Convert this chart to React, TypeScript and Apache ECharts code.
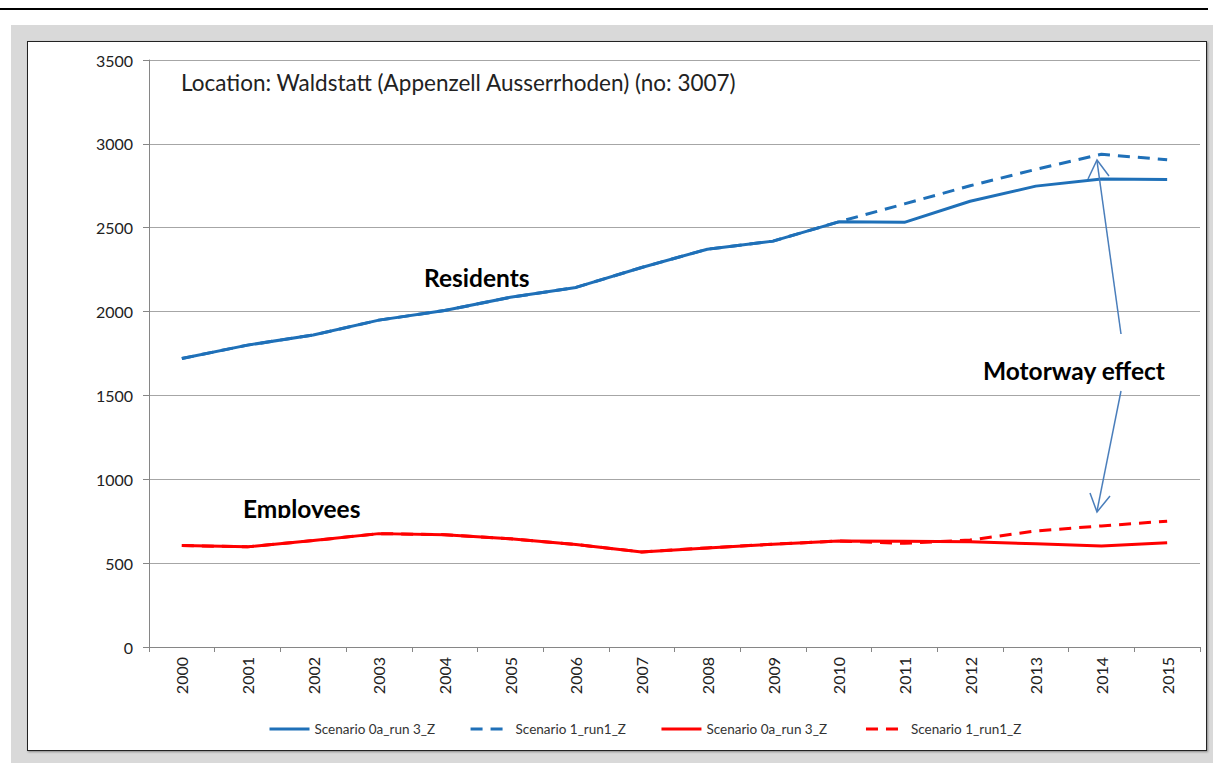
import React, { useEffect, useRef } from "react";
import * as echarts from "echarts";

const years = ["2000", "2001", "2002", "2003", "2004", "2005", "2006", "2007", "2008", "2009", "2010", "2011", "2012", "2013", "2014", "2015"];
const residentsBase = [1720, 1800, 1860, 1949, 2006, 2085, 2144, 2263, 2372, 2420, 2535, 2532, 2658, 2748, 2790, 2788];
const residentsMotorway = [1720, 1800, 1860, 1949, 2006, 2085, 2144, 2263, 2372, 2420, 2535, 2642, 2750, 2848, 2938, 2905];
const employeesBase = [605, 597, 635, 676, 670, 645, 611, 567, 591, 613, 632, 630, 628, 615, 602, 622];
const employeesMotorway = [605, 597, 635, 676, 670, 645, 611, 567, 591, 613, 632, 618, 638, 692, 722, 750];
const seriesNames = ["Scenario 0a_run 3_Z", "Scenario 1_run1_Z", "Scenario 0a_run 3_Z ", "Scenario 1_run1_Z "];
const yTicks = { min: 0, max: 3500, interval: 500 };

const FONT = "Lato, 'Open Sans', sans-serif";
const BLUE = "#1f70b8";
const RED = "#ff0000";
const ARROW = "#4a7ebb";

export default function App() {
  const ref = useRef<HTMLDivElement>(null);

  useEffect(() => {
    if (!ref.current) return;
    const chart = echarts.init(ref.current, null, { renderer: "svg" });
    const mk = (name: string, data: number[], color: string, dashed: boolean) => ({
      name,
      type: "line",
      data,
      symbol: "none",
      showSymbol: false,
      smooth: false,
      lineStyle: { color, width: 3, type: dashed ? [12, 8] : "solid" },
      itemStyle: { color },
    });
    chart.setOption({
      animation: false,
      textStyle: { fontFamily: FONT },
      grid: { left: 149, top: 60, right: 13, bottom: 116, containLabel: false },
      xAxis: {
        type: "category",
        data: years,
        boundaryGap: true,
        axisLine: { show: true, lineStyle: { color: "#868686", width: 1 } },
        axisTick: { show: true, interval: 0, length: 5, lineStyle: { color: "#868686" } },
        axisLabel: { rotate: 90, fontSize: 16, color: "#222", margin: 10, fontFamily: FONT, interval: 0 },
        splitLine: { show: false },
      },
      yAxis: {
        type: "value",
        min: yTicks.min,
        max: yTicks.max,
        interval: yTicks.interval,
        axisLine: { show: true, lineStyle: { color: "#868686", width: 1 } },
        axisTick: { show: true, length: 6, lineStyle: { color: "#868686" } },
        axisLabel: { fontSize: 16, color: "#222", margin: 16, fontFamily: FONT, formatter: (v: number) => String(v) },
        splitLine: { show: true, lineStyle: { color: "#a6a6a6", width: 1 } },
      },
      legend: {
        left: 268,
        top: 722,
        padding: 0,
        itemWidth: 40,
        itemHeight: 12,
        itemGap: 34,
        itemStyle: { opacity: 0 },
        lineStyle: { width: 3 },
        textStyle: { fontSize: 13.5, color: "#333", fontFamily: FONT },
        data: seriesNames,
      },
      series: [
        mk(seriesNames[0], residentsBase, BLUE, false),
        mk(seriesNames[1], residentsMotorway, BLUE, true),
        mk(seriesNames[2], employeesBase, RED, false),
        mk(seriesNames[3], employeesMotorway, RED, true),
      ],
      graphic: [
        {
          type: "text",
          x: 181,
          y: 82,
          style: { text: "Location: Waldstatt (Appenzell Ausserrhoden) (no: 3007)", fontSize: 22.5, fontFamily: FONT, fill: "#222", verticalAlign: "middle" },
          z: 100,
        },
        {
          type: "text",
          x: 424,
          y: 277,
          style: { text: "Residents", fontSize: 24.5, fontWeight: "bold", fontFamily: FONT, fill: "#000", verticalAlign: "middle" },
          z: 100,
        },
        {
          type: "text",
          x: 983,
          y: 370,
          style: { text: "Motorway effect", fontSize: 24.5, fontWeight: "bold", fontFamily: FONT, fill: "#000", verticalAlign: "middle" },
          z: 100,
        },
        {
          type: "text",
          x: 243,
          y: 508,
          style: { text: "Employees", fontSize: 24.5, fontWeight: "bold", fontFamily: FONT, fill: "#000", verticalAlign: "middle" },
          z: 100,
        },
        {
          type: "rect",
          shape: { x: 238, y: 518, width: 140, height: 12 },
          style: { fill: "#fff" },
          z: 101,
        },
        {
          type: "line",
          shape: { x1: 1121, y1: 334, x2: 1097, y2: 161 },
          style: { stroke: ARROW, lineWidth: 1.5 },
          z: 100,
        },
        {
          type: "polyline",
          shape: { points: [[1088, 179], [1097, 160], [1109, 176]] },
          style: { stroke: ARROW, lineWidth: 1.5, fill: null },
          z: 100,
        },
        {
          type: "line",
          shape: { x1: 1121, y1: 391, x2: 1097, y2: 511 },
          style: { stroke: ARROW, lineWidth: 1.5 },
          z: 100,
        },
        {
          type: "polyline",
          shape: { points: [[1090, 493], [1097, 512], [1110, 496]] },
          style: { stroke: ARROW, lineWidth: 1.5, fill: null },
          z: 100,
        },
      ],
    });
    return () => chart.dispose();
  }, []);

  return (
    <div style={{ position: "absolute", left: 0, top: 0, width: 1213, height: 763, background: "#fff", overflow: "hidden" }}>
      <div style={{ position: "absolute", left: 0, top: 8, width: 1208, height: 2, background: "#000" }} />
      <div style={{ position: "absolute", left: 11, top: 25, width: 1202, height: 738, background: "#d9d9d9" }} />
      <div
        style={{
          position: "absolute",
          left: 27,
          top: 41,
          width: 1180,
          height: 710,
          background: "#fff",
          border: "1.5px solid #222",
          boxSizing: "border-box",
          boxShadow: "1px 1px 2px #888",
        }}
      />
      <div ref={ref} style={{ position: "absolute", left: 0, top: 0, width: 1213, height: 763 }} />
    </div>
  );
}
